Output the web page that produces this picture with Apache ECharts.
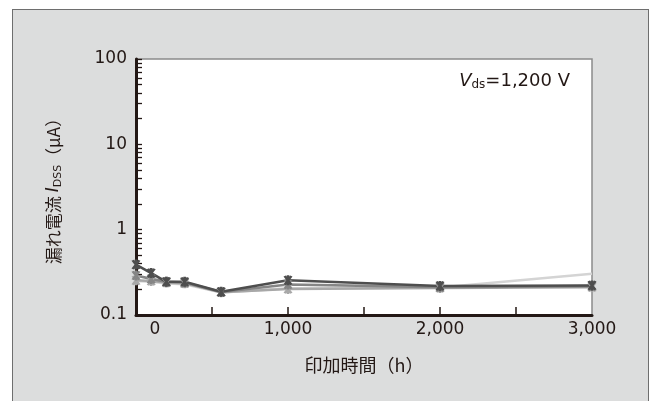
<!DOCTYPE html>
<html>
<head>
<meta charset="utf-8">
<script src="https://cdn.jsdelivr.net/npm/echarts@6/dist/echarts.min.js"></script>
<style>
  html, body { margin: 0; padding: 0; background: #ffffff; }
  #frame { position: absolute; left: 12px; top: 9px; width: 637px; height: 400px;
           background: #dcdddd; border: 1px solid #6e6e6e; box-sizing: border-box; }
  #chart { position: absolute; left: 0; top: 0; width: 651px; height: 401px; }
</style>
</head>
<body>
<div id="frame"></div>
<div id="chart"></div>
<script>
// ---- data ----
const hours = [0, 100, 200, 320, 560, 1000, 2000, 3000];
const seriesDark   = [0.39, 0.31, 0.245, 0.245, 0.187, 0.255, 0.219, 0.222];
const seriesMedium = [0.29, 0.265, 0.245, 0.24, 0.186, 0.228, 0.212, 0.218];
const seriesLight  = [0.255, 0.25, 0.24, 0.235, 0.185, 0.202, 0.207, 0.212];
const seriesPale   = [0.25, 0.245, 0.235, 0.23, 0.184, 0.205, 0.21, 0.305];
const xTickValues = [0, 1000, 2000, 3000];
const xTickLabels = ['0', '1,000', '2,000', '3,000'];
const yTickValues = [0.1, 1, 10, 100];
const yTickLabels = ['0.1', '1', '10', '100'];
const yMinorTicks = [0.1,0.2,0.3,0.4,0.5,0.6,0.7,0.8,0.9,1,2,3,4,5,6,7,8,9,10,20,30,40,50,60,70,80,90,100];
const xMinorTicks = [500, 1000, 1500, 2000, 2500];

const ink = '#231815';
const numFont = 'DejaVu Sans';
const jpFont = 'Noto Sans CJK JP';
// asterisk: three bars with the same winding
const asterisk = 'path://M-1,-5L1,-5L1,5L-1,5Z M1.634,4.83L-3.366,-3.83L-1.634,-4.83L3.366,3.83Z M3.366,-3.83L-1.634,4.83L-3.366,3.83L1.634,-4.83Z';

function pairs(vals) { return hours.map((h, i) => [h, vals[i]]); }

function lineSeries(name, vals, color, withSymbol) {
  return {
    name: name, type: 'line', data: pairs(vals),
    symbol: withSymbol ? asterisk : 'none', symbolSize: [9, 10],
    lineStyle: { color: color, width: 2.6 },
    itemStyle: { color: color },
    emphasis: { disabled: true }, animation: false
  };
}

const chart = echarts.init(document.getElementById('chart'), null, { renderer: 'canvas' });
chart.setOption({
  backgroundColor: 'transparent',
  animation: false,
  title: {
    right: 76, top: 66,
    text: '{i|V}{s|ds}{n|=1,200 V}',
    textStyle: {
      fontWeight: 'normal',
      rich: {
        i: { fontFamily: numFont, fontStyle: 'italic', fontWeight: 'normal', fontSize: 18, color: ink, lineHeight: 20 },
        s: { fontFamily: numFont, fontWeight: 'normal', fontSize: 12, color: ink, lineHeight: 16, verticalAlign: 'bottom' },
        n: { fontFamily: numFont, fontWeight: 'normal', fontSize: 18, color: ink, lineHeight: 20 }
      }
    }
  },
  grid: {
    left: 136, right: 59, top: 59, bottom: 86,
    show: true, backgroundColor: '#ffffff', borderColor: '#8a8a8a', borderWidth: 1.5
  },
  xAxis: {
    type: 'value', min: 0, max: 3000, interval: 500,
    name: '印加時間（h）', nameLocation: 'middle', nameGap: 41,
    nameTextStyle: { fontFamily: jpFont, fontSize: 18, color: ink },
    axisLine: { show: true, lineStyle: { color: ink, width: 3 } },
    axisTick: { show: true, inside: true, length: 8, customValues: xMinorTicks, lineStyle: { color: ink, width: 1.5 } },
    axisLabel: {
      customValues: xTickValues, margin: 6,
      fontFamily: numFont, fontSize: 17, color: ink,
      formatter: function (v) {
        const i = xTickValues.indexOf(v);
        const t = i >= 0 ? xTickLabels[i] : '';
        return v === 0 ? '{z|' + t + '}' : t;
      },
      rich: { z: { fontFamily: numFont, fontSize: 17, color: ink, padding: [0, 0, 0, 38] } }
    },
    splitLine: { show: false }
  },
  yAxis: {
    type: 'log', logBase: 10, min: 0.1, max: 100,
    name: '漏れ電流 {i|I}{s|DSS}（μA）', nameLocation: 'middle', nameRotate: 90, nameGap: 72,
    nameTextStyle: {
      fontFamily: jpFont, fontSize: 17, color: ink,
      rich: {
        i: { fontFamily: numFont, fontStyle: 'italic', fontSize: 17, color: ink, lineHeight: 20 },
        s: { fontFamily: numFont, fontSize: 11, color: ink, lineHeight: 15, verticalAlign: 'bottom' }
      }
    },
    axisLine: { show: true, lineStyle: { color: ink, width: 3 } },
    axisTick: { show: true, inside: true, length: 6, customValues: yMinorTicks, lineStyle: { color: ink, width: 1.3 } },
    axisLabel: {
      customValues: yTickValues, margin: 9,
      fontFamily: numFont, fontSize: 17, color: ink,
      formatter: function (v) {
        let best = 0, bd = Infinity;
        yTickValues.forEach((t, i) => { const d = Math.abs(Math.log10(t) - Math.log10(v)); if (d < bd) { bd = d; best = i; } });
        return yTickLabels[best];
      }
    },
    splitLine: { show: false }
  },
  series: [
    lineSeries('pale', seriesPale, '#d4d4d4', false),
    lineSeries('light', seriesLight, '#a8a8a8', true),
    lineSeries('medium', seriesMedium, '#858585', true),
    lineSeries('dark', seriesDark, '#4e4e4e', true)
  ]
});
</script>
</body>
</html>
